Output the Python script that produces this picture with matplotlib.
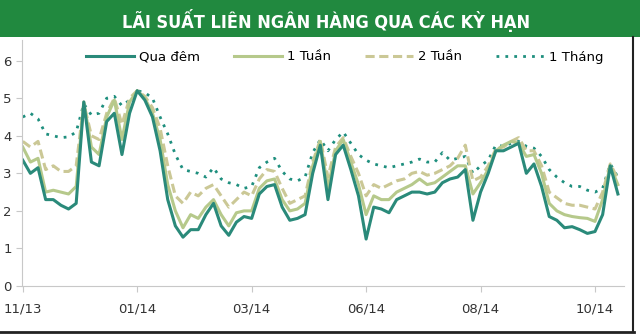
import matplotlib
matplotlib.use('Agg')
from matplotlib import pyplot as plt
from matplotlib.lines import Line2D
from matplotlib.patches import Rectangle

title = 'LÃI SUẤT LIÊN NGÂN HÀNG QUA CÁC KỲ HẠN'
tick_labels = ['11/13', '01/14', '03/14', '06/14', '08/14', '10/14']
tick_step = 15

qua_dem = [3.35, 3.0, 3.15, 2.3, 2.3, 2.15, 2.05, 2.2, 4.9, 3.3,
           3.2, 4.38, 4.6, 3.5, 4.6, 5.2, 4.95, 4.5, 3.6, 2.3,
           1.6, 1.3, 1.5, 1.5, 1.9, 2.2, 1.6, 1.35, 1.7, 1.85,
           1.8, 2.45, 2.65, 2.7, 2.1, 1.75, 1.8, 1.9, 3.0, 3.75,
           2.3, 3.5, 3.75, 3.1, 2.4, 1.25, 2.1, 2.05, 1.95, 2.3,
           2.4, 2.5, 2.5, 2.45, 2.5, 2.75, 2.85, 2.9, 3.1, 1.75,
           2.5, 3.0, 3.6, 3.6, 3.7, 3.8, 3.0, 3.25, 2.65, 1.85,
           1.75, 1.55, 1.58, 1.5, 1.4, 1.45, 1.9, 3.2, 2.45]
tuan_1 = [3.7, 3.3, 3.4, 2.5, 2.55, 2.5, 2.45, 2.65, 4.9, 3.7,
          3.5, 4.5, 4.95, 3.9, 4.9, 5.2, 5.0, 4.6, 3.9, 2.7,
          2.0, 1.55, 1.9, 1.8, 2.1, 2.3, 1.9, 1.6, 1.95, 2.0,
          2.0, 2.6, 2.8, 2.85, 2.3, 2.0, 2.05, 2.2, 3.2, 3.85,
          2.6, 3.6, 3.9, 3.3, 2.7, 1.9, 2.4, 2.3, 2.3, 2.5,
          2.6, 2.7, 2.85, 2.7, 2.75, 2.9, 3.05, 3.2, 3.2, 2.45,
          2.75, 3.1, 3.6, 3.75, 3.85, 3.8, 3.45, 3.5, 3.0, 2.2,
          2.0, 1.9, 1.85, 1.82, 1.8, 1.72, 2.3, 3.2, 2.7]
tuan_2 = [3.85, 3.7, 3.85, 3.1, 3.2, 3.05, 3.05, 3.2, 4.85, 4.0,
          3.9, 4.6, 5.0, 4.3, 5.0, 5.2, 5.05, 4.75, 4.2, 3.2,
          2.4, 2.2, 2.5, 2.4, 2.6, 2.7, 2.4, 2.1, 2.3, 2.5,
          2.4, 2.85, 3.1, 3.05, 2.6, 2.2, 2.3, 2.4, 3.3, 3.9,
          2.9, 3.7, 3.95, 3.45, 3.0, 2.4, 2.7, 2.6, 2.7, 2.8,
          2.85, 3.0, 3.05, 2.95, 3.0, 3.1, 3.2, 3.4, 3.75, 2.8,
          2.9, 3.2, 3.65, 3.7, 3.85, 3.95, 3.6, 3.6, 3.2, 2.5,
          2.35, 2.2, 2.15, 2.15, 2.1, 2.05, 2.5, 3.25, 2.85]
thang_1 = [4.5, 4.6, 4.45, 4.05, 4.0, 3.95, 3.97, 4.1, 4.85, 4.55,
           4.6, 5.0, 5.05, 4.8, 4.95, 5.2, 5.15, 5.0, 4.5, 4.05,
           3.5, 3.1, 3.05, 3.0, 2.9, 3.15, 2.85, 2.75, 2.7, 2.6,
           2.65, 3.15, 3.3, 3.4, 3.05, 2.85, 2.8, 2.9, 3.55, 3.9,
           3.6, 3.9, 4.1, 3.8, 3.5, 3.35, 3.25, 3.2, 3.15, 3.2,
           3.25, 3.3, 3.38, 3.3, 3.3, 3.55, 3.35, 3.4, 3.45, 3.0,
           3.2, 3.35, 3.75, 3.72, 3.8, 3.85, 3.72, 3.67, 3.45, 3.1,
           2.9, 2.75, 2.65, 2.65, 2.55, 2.5, 2.6, 3.25, 2.9]

x = list(range(len(qua_dem)))

fig = plt.figure(figsize=(6.4, 3.34), dpi=100)

# green banner
fig.patches.append(Rectangle((0, 1 - 37 / 334), 1, 37 / 334, transform=fig.transFigure,
                             facecolor='#21893f', edgecolor='none', zorder=0))
fig.text(0.51, 1 - 20 / 334, title, color='white', fontsize=13, fontweight='bold',
         family=['DejaVu Sans'], fontstretch='condensed', ha='center', va='center')

ax = fig.add_axes([22 / 640, (334 - 286) / 334, (624 - 22) / 640, (286 - 40) / 334])
ax.plot(x, thang_1, color='#1e8f7e', lw=2.0, ls=(0, (1, 2.2)), label='1 Tháng')
ax.plot(x, tuan_2, color='#cbc896', lw=2.2, ls=(0, (3, 1.5)), label='2 Tuần')
ax.plot(x, tuan_1, color='#b6c98b', lw=2.2, label='1 Tuần')
ax.plot(x, qua_dem, color='#2a8a7a', lw=2.2, label='Qua đêm')

ax.set_xlim(-0.1, len(x) - 0.2)
ax.set_ylim(0, 6.55)
ax.set_yticks(range(7))
ax.set_xticks(range(0, len(x), tick_step))
ax.set_xticklabels(tick_labels)
for s in ['top', 'right']:
    ax.spines[s].set_visible(False)
for s in ['left', 'bottom']:
    ax.spines[s].set_color('#c8c8c8')
ax.tick_params(colors='#c8c8c8', labelcolor='#333333', labelsize=9.5, length=4)
ax.tick_params(axis='x', pad=8)

handles, labels = ax.get_legend_handles_labels()
fig.legend(handles[::-1], labels[::-1], ncol=4, frameon=False, fontsize=9.5,
           loc='center', bbox_to_anchor=(345 / 640, 1 - 57 / 334),
           handlelength=3.6, columnspacing=2.6, handletextpad=0.4)

# dark frame lines right and bottom
fig.lines.append(Line2D([633 / 640, 633 / 640], [2 / 334, 1 - 37 / 334],
                        transform=fig.transFigure, color='#222222', lw=1.5))
fig.lines.append(Line2D([0, 634 / 640], [2 / 334, 2 / 334],
                        transform=fig.transFigure, color='#222222', lw=2))

fig.savefig('out.png', dpi=100)
